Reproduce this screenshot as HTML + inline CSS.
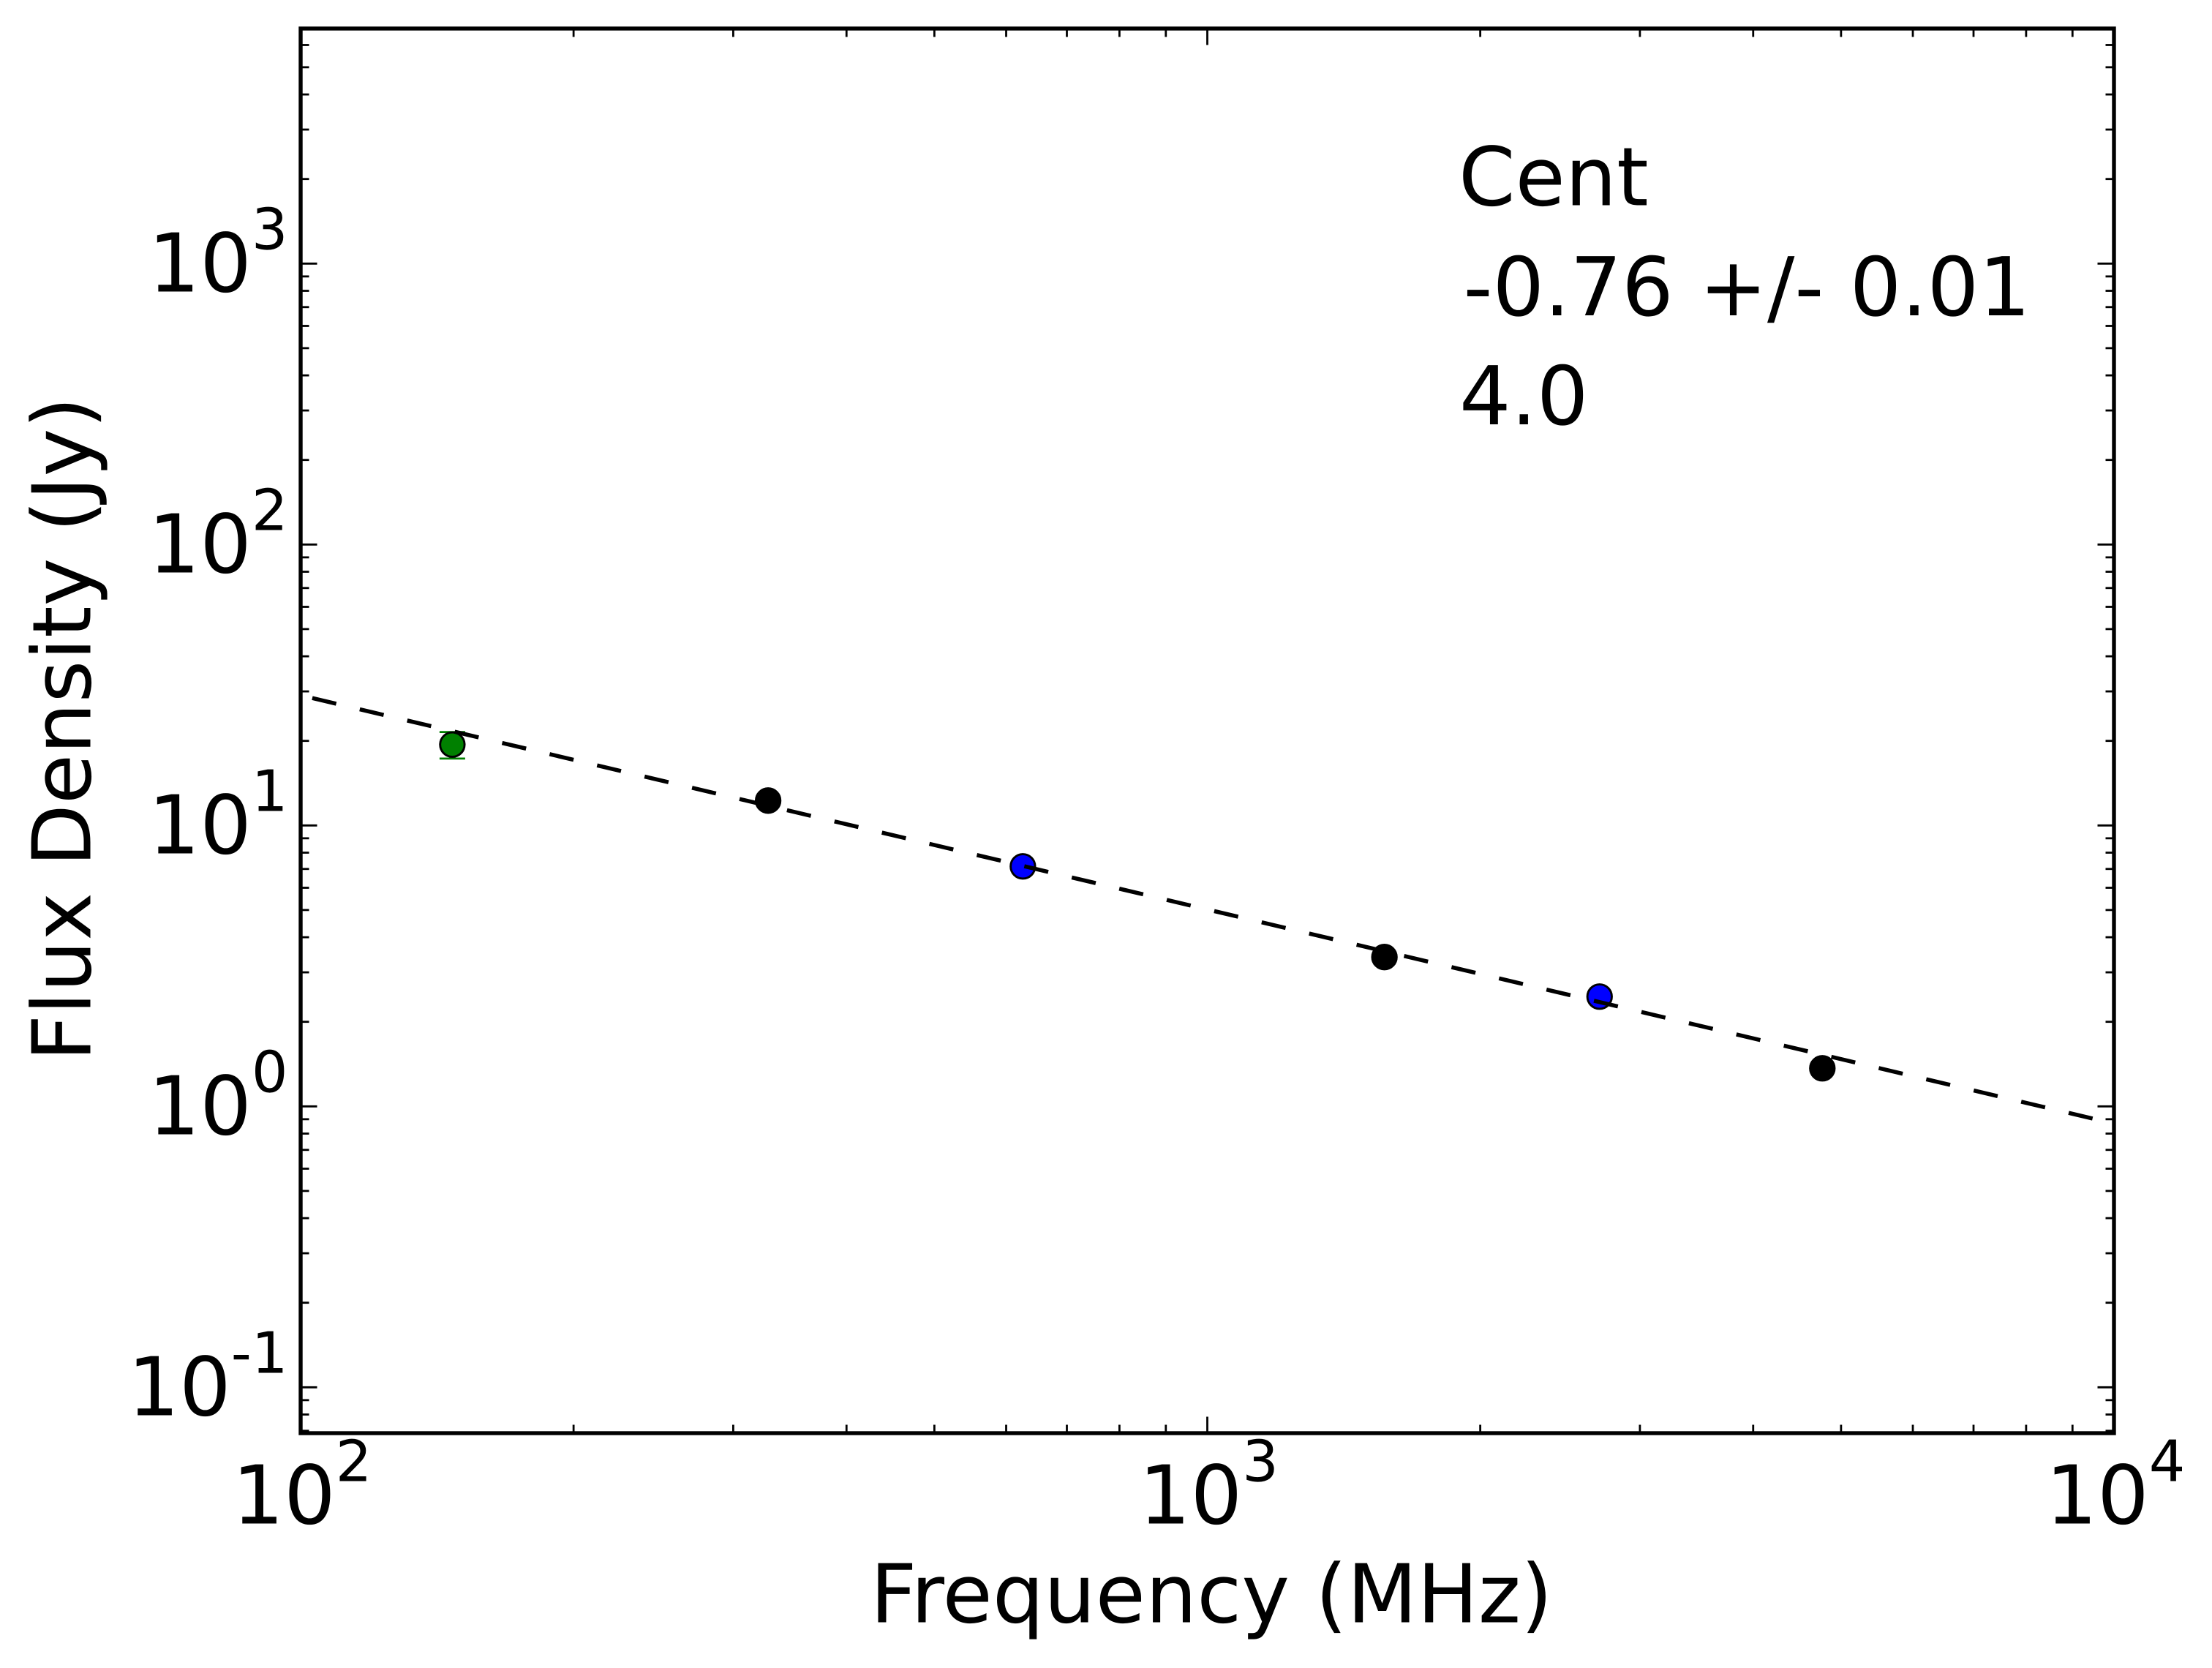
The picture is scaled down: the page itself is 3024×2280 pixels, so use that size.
<!DOCTYPE html>
<html lang="en">
<head>
<meta charset="utf-8">
<title>Cent flux density spectrum</title>
<style>
html,body{margin:0;padding:0;background:#fff;width:3024px;height:2280px;overflow:hidden}
svg{display:block}
text{font-family:"DejaVu Sans","Liberation Sans",sans-serif;fill:#000;text-rendering:geometricPrecision}
</style>
</head>
<body>
<svg id="chart" xmlns="http://www.w3.org/2000/svg" width="3024" height="2280" viewBox="0 0 3024 2280">
  <rect x="0" y="0" width="3024" height="2280" fill="#fff"/>
  <g id="ticks"></g>
  <g id="tick-labels"></g>
  <g id="marks"></g>
  <g id="fit"></g>
  <rect x="411" y="39" width="2479" height="1920" fill="none" stroke="#000" stroke-width="5.4"/>
  <text x="1994" y="280.7" font-size="111">Cent</text>
  <text x="2000.5" y="431" font-size="111">-0.76 +/- 0.01</text>
  <text x="1995" y="580" font-size="111">4.0</text>
  <text x="1656" y="2217.7" font-size="111" text-anchor="middle">Frequency (MHz)</text>
  <text x="123.3" y="996.5" font-size="111" text-anchor="middle" transform="rotate(-90 123.3 996.5)">Flux Density (Jy)</text>
</svg>
<script>
// Axis data
const xLogDomain = [2, 4];
const yLogDomain = [-1.1633, 3.8367];
const xTickExponents = [2, 3, 4];
const yTickExponents = [-1, 0, 1, 2, 3];
const minorMultiples = [2, 3, 4, 5, 6, 7, 8, 9];

// Series data (MHz, Jy)
const blackFreq = [327.8, 1568, 4768];
const blackFlux = [12.26, 3.40, 1.366];
const blueFreq = [626, 2708];
const blueFlux = [7.15, 2.459];
const greenFreq = [147];
const greenFlux = [19.4];
const greenErr = [2.1];
const fitFreq = [103, 9470];
const fitFlux = [28.4, 0.905];

const NS = 'http://www.w3.org/2000/svg';
const plot = {left: 411, right: 2890, top: 39, bottom: 1959};

function xScale(f) {
  return plot.left + (Math.log10(f) - xLogDomain[0]) / (xLogDomain[1] - xLogDomain[0]) * (plot.right - plot.left);
}
function yScale(v) {
  return plot.bottom - (Math.log10(v) - yLogDomain[0]) / (yLogDomain[1] - yLogDomain[0]) * (plot.bottom - plot.top);
}
function make(tag, attrs) {
  const el = document.createElementNS(NS, tag);
  for (const k in attrs) el.setAttribute(k, attrs[k]);
  return el;
}

const tickLayer = document.getElementById('ticks');
const labelLayer = document.getElementById('tick-labels');
const markLayer = document.getElementById('marks');
const fitLayer = document.getElementById('fit');

function addTick(x1, y1, x2, y2, name) {
  const el = make('line', {x1: x1, y1: y1, x2: x2, y2: y2, stroke: '#000', 'stroke-width': 2.8});
  
  
  tickLayer.appendChild(el);
}
function addXTicks(value, len, name) {
  const x = xScale(value);
  addTick(x, plot.bottom, x, plot.bottom - len, name);
  addTick(x, plot.top, x, plot.top + len, name + '-top');
}
function addYTicks(value, len, name) {
  const y = yScale(value);
  addTick(plot.left, y, plot.left + len, y, name);
  addTick(plot.right, y, plot.right - len, y, name + '-right');
}

// x ticks
for (const e of xTickExponents) {
  const base = Math.pow(10, e);
  addXTicks(base, 22.5, 'x-major-tick');
  if (e < xLogDomain[1]) {
    for (const m of minorMultiples) addXTicks(base * m, 11.5, 'x-minor-tick');
  }
}
// y ticks
for (let e = Math.floor(yLogDomain[0]); e <= Math.ceil(yLogDomain[1]); e++) {
  const base = Math.pow(10, e);
  if (yTickExponents.includes(e)) addYTicks(base, 22.5, 'y-major-tick');
  for (const m of minorMultiples) {
    const lv = Math.log10(base * m);
    if (lv > yLogDomain[0] && lv < yLogDomain[1]) addYTicks(base * m, 11.5, 'y-minor-tick');
  }
}

function addPowerLabel(exp, x, y, anchor, name) {
  const t = make('text', {x: x, y: y, 'font-size': 111, 'text-anchor': anchor});
  
  
  t.appendChild(document.createTextNode('10'));
  const s = make('tspan', {dy: -58, 'font-size': 78});
  s.textContent = String(exp);
  t.appendChild(s);
  labelLayer.appendChild(t);
}
for (const e of xTickExponents) {
  addPowerLabel(e, xScale(Math.pow(10, e)) + 2, 2082.3, 'middle', 'x-tick-label');
}
for (const e of yTickExponents) {
  addPowerLabel(e, 393.5, yScale(Math.pow(10, e)) + 38, 'end', 'y-tick-label');
}

function addMarker(f, v, fill, name) {
  const c = make('circle', {cx: xScale(f), cy: yScale(v), r: 16.7, fill: fill, stroke: '#000', 'stroke-width': 2.9});
  
  
  markLayer.appendChild(c);
}

// green error bars first, markers over them
greenFreq.forEach(function (f, i) {
  const x = xScale(f);
  const yHi = yScale(greenFlux[i] + greenErr[i]);
  const yLo = yScale(greenFlux[i] - greenErr[i]);
  const segs = [[x, yHi, x, yLo], [x - 17.5, yHi, x + 17.5, yHi], [x - 17.5, yLo, x + 17.5, yLo]];
  for (const s of segs) {
    const l = make('line', {x1: s[0], y1: s[1], x2: s[2], y2: s[3], stroke: '#008000', 'stroke-width': 2.8});
    
    
    markLayer.appendChild(l);
  }
});
greenFreq.forEach(function (f, i) { addMarker(f, greenFlux[i], '#008000', 'green-data-point'); });
blackFreq.forEach(function (f, i) { addMarker(f, blackFlux[i], '#000000', 'black-data-point'); });
blueFreq.forEach(function (f, i) { addMarker(f, blueFlux[i], '#0000ff', 'blue-data-point'); });

// dashed fit line
const fitLine = make('line', {
  x1: xScale(fitFreq[0]), y1: yScale(fitFlux[0]),
  x2: xScale(fitFreq[1]), y2: yScale(fitFlux[1]),
  stroke: '#000', 'stroke-width': 5.55, 'stroke-dasharray': '33.6 33.08'
});


fitLayer.appendChild(fitLine);
</script>
</body>
</html>
